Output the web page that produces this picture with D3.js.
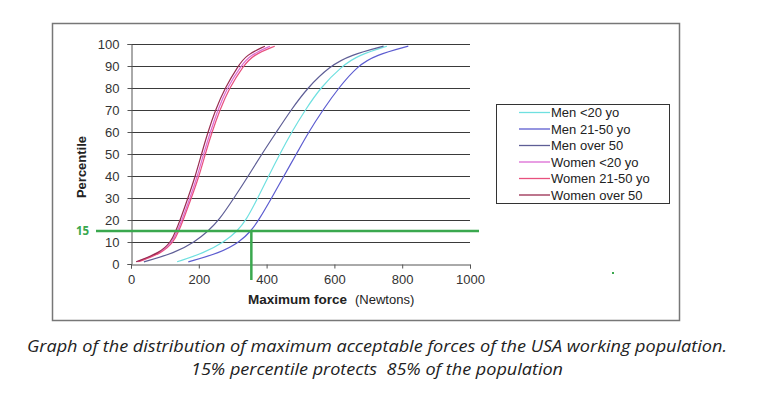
<!DOCTYPE html>
<html>
<head>
<meta charset="utf-8">
<script src="https://cdn.jsdelivr.net/npm/d3@7"></script>
<style>
  body { margin: 0; background: #fff; }
  svg { display: block; }
</style>
</head>
<body>
<div id="chart"></div>
<script>
// percentile levels, same for every series
var percentiles = [1, 5, 10, 15, 20, 30, 40, 50, 60, 70, 80, 90, 95, 99];

// force (Newtons) at each percentile
var menUnder20   = [136, 215, 275, 314, 340, 374, 406, 439, 474, 514, 558, 622, 672, 755];
var men21to50    = [169, 262, 321, 354, 377, 415, 451, 488, 524, 566, 612, 668, 722, 818];
var menOver50    = [38, 129, 188, 228, 260, 304, 346, 386, 429, 472, 520, 587, 648, 745];
var womenUnder20 = [18, 88, 122, 137, 150, 174, 196, 214, 234, 256, 283, 324, 352, 410];
var women21to50  = [22, 92, 126, 141, 154, 178, 201, 219, 239, 262, 290, 331, 360, 424];
var womenOver50  = [15, 84, 118, 132, 145, 168, 190, 208, 227, 249, 277, 316, 340, 395];

var seriesNames = ["Men <20 yo", "Men 21-50 yo", "Men over 50", "Women <20 yo", "Women 21-50 yo", "Women over 50"];
var seriesValues = [menUnder20, men21to50, menOver50, womenUnder20, women21to50, womenOver50];
var seriesColors = ["#6fe0e0", "#5c5cd0", "#5e5e96", "#dc6ad4", "#e8507e", "#9a2c50"];

var xTicks = [0, 200, 400, 600, 800, 1000];
var yTicks = [0, 10, 20, 30, 40, 50, 60, 70, 80, 90, 100];
var cutPercentile = 15;
var cutForce = 355;

var W = 768, H = 399;
var font = "'Liberation Sans', Arial, sans-serif";

var svg = d3.select("#chart").append("svg")
  .attr("width", W)
  .attr("height", H);

// outer frame of the picture
svg.append("rect")
  .attr("x", 52.5).attr("y", 23.5)
  .attr("width", 627).attr("height", 297)
  .attr("fill", "none")
  .attr("stroke", "#777")
  .attr("stroke-width", 1.5);

var x = d3.scaleLinear().domain([0, 1000]).range([131, 470]);
var y = d3.scaleLinear().domain([0, 100]).range([264, 44]);

// horizontal gridlines
svg.append("g")
  .selectAll("line")
  .data(yTicks.filter(function(d) { return d > 0; }))
  .enter().append("line")
    .attr("x1", x(0)).attr("x2", x(1000))
    .attr("y1", function(d) { return Math.round(y(d)) + 0.5; })
    .attr("y2", function(d) { return Math.round(y(d)) + 0.5; })
    .attr("stroke", "#3a3a3a")
    .attr("stroke-width", 1);

// y axis
var yAxis = svg.append("g")
  .attr("transform", "translate(" + (x(0) + 0.5) + ",0)")
  .call(d3.axisLeft(y).tickValues(yTicks).tickSize(4).tickPadding(8).tickFormat(d3.format("d")));
// x axis
var xAxis = svg.append("g")
  .attr("transform", "translate(0," + (y(0) + 0.5) + ")")
  .call(d3.axisBottom(x).tickValues(xTicks).tickSize(4).tickPadding(6).tickFormat(d3.format("d")));

[xAxis, yAxis].forEach(function(a) {
  a.select(".domain").attr("stroke", "#555");
  a.selectAll(".tick line").attr("stroke", "#555");
  a.selectAll("text")
    .style("font-family", font)
    .style("font-size", "13px")
    .attr("fill", "#333");
});

// axis titles
var xTitle = svg.append("text")
  .attr("x", 248).attr("y", 304)
  .style("font-family", font)
  .style("font-size", "13.5px")
  .attr("fill", "#222");
xTitle.append("tspan").attr("font-weight", "bold").text("Maximum force");
xTitle.append("tspan").attr("dx", 8).style("font-size", "13px").text("(Newtons)");

svg.append("text")
  .attr("transform", "translate(86,167) rotate(-90)")
  .attr("text-anchor", "middle")
  .style("font-family", font)
  .style("font-size", "13px")
  .attr("font-weight", "bold")
  .attr("fill", "#222")
  .text("Percentile");

// curves
var line = d3.line()
  .x(function(d) { return x(d[0]); })
  .y(function(d) { return y(d[1]); })
  .curve(d3.curveBasis);

svg.append("g")
  .selectAll("path")
  .data(seriesValues)
  .enter().append("path")
    .attr("d", function(vals) {
      return line(vals.map(function(v, i) { return [v, percentiles[i]]; }));
    })
    .attr("fill", "none")
    .attr("stroke", function(d, i) { return seriesColors[i]; })
    .attr("stroke-width", 1.2);

// 15th percentile marker
var green = "#3aa84e";
svg.append("line")
  .attr("x1", x(0) - 35).attr("x2", x(1000) + 9)
  .attr("y1", y(cutPercentile)).attr("y2", y(cutPercentile))
  .attr("stroke", green)
  .attr("stroke-width", 2.5);
svg.append("line")
  .attr("x1", x(cutForce)).attr("x2", x(cutForce))
  .attr("y1", y(cutPercentile)).attr("y2", y(0) + 16)
  .attr("stroke", green)
  .attr("stroke-width", 2.5);
svg.append("text")
  .attr("x", 76).attr("y", y(cutPercentile) + 4)
  .style("font-family", "'Open Sans', sans-serif")
  .style("font-size", "11.5px")
  .attr("font-weight", "bold")
  .attr("fill", green)
  .text(cutPercentile);
svg.append("rect")
  .attr("x", 612).attr("y", 272)
  .attr("width", 2).attr("height", 2)
  .attr("fill", green);

// legend
var legend = svg.append("g");
legend.append("rect")
  .attr("x", 496.5).attr("y", 104.5)
  .attr("width", 173).attr("height", 99)
  .attr("fill", "#fff")
  .attr("stroke", "#333");
var rows = legend.selectAll("g.row")
  .data(seriesNames)
  .enter().append("g")
    .attr("class", "row")
    .attr("transform", function(d, i) { return "translate(0," + (112.5 + i * 16.5) + ")"; });
rows.append("line")
  .attr("x1", 519).attr("x2", 550)
  .attr("stroke", function(d, i) { return seriesColors[i]; })
  .attr("stroke-width", 1.3);
rows.append("text")
  .attr("x", 551).attr("y", 4.5)
  .style("font-family", font)
  .style("font-size", "13px")
  .attr("fill", "#222")
  .text(function(d) { return d; });

// caption
var caption = [
  "Graph of the distribution of maximum acceptable forces of the USA working population.",
  "15% percentile protects  85% of the population"
];
var captionWidths = [700, 372];
svg.append("g")
  .selectAll("text")
  .data(caption)
  .enter().append("text")
    .attr("x", 377)
    .attr("y", function(d, i) { return 352 + i * 23; })
    .attr("text-anchor", "middle")
    .attr("textLength", function(d, i) { return captionWidths[i]; })
    .attr("lengthAdjust", "spacingAndGlyphs")
    .style("font-family", "'Open Sans', sans-serif")
    .style("font-style", "italic")
    .style("font-size", "16px")
    .style("white-space", "pre")
    .attr("fill", "#222")
    .text(function(d) { return d; });
</script>
</body>
</html>
